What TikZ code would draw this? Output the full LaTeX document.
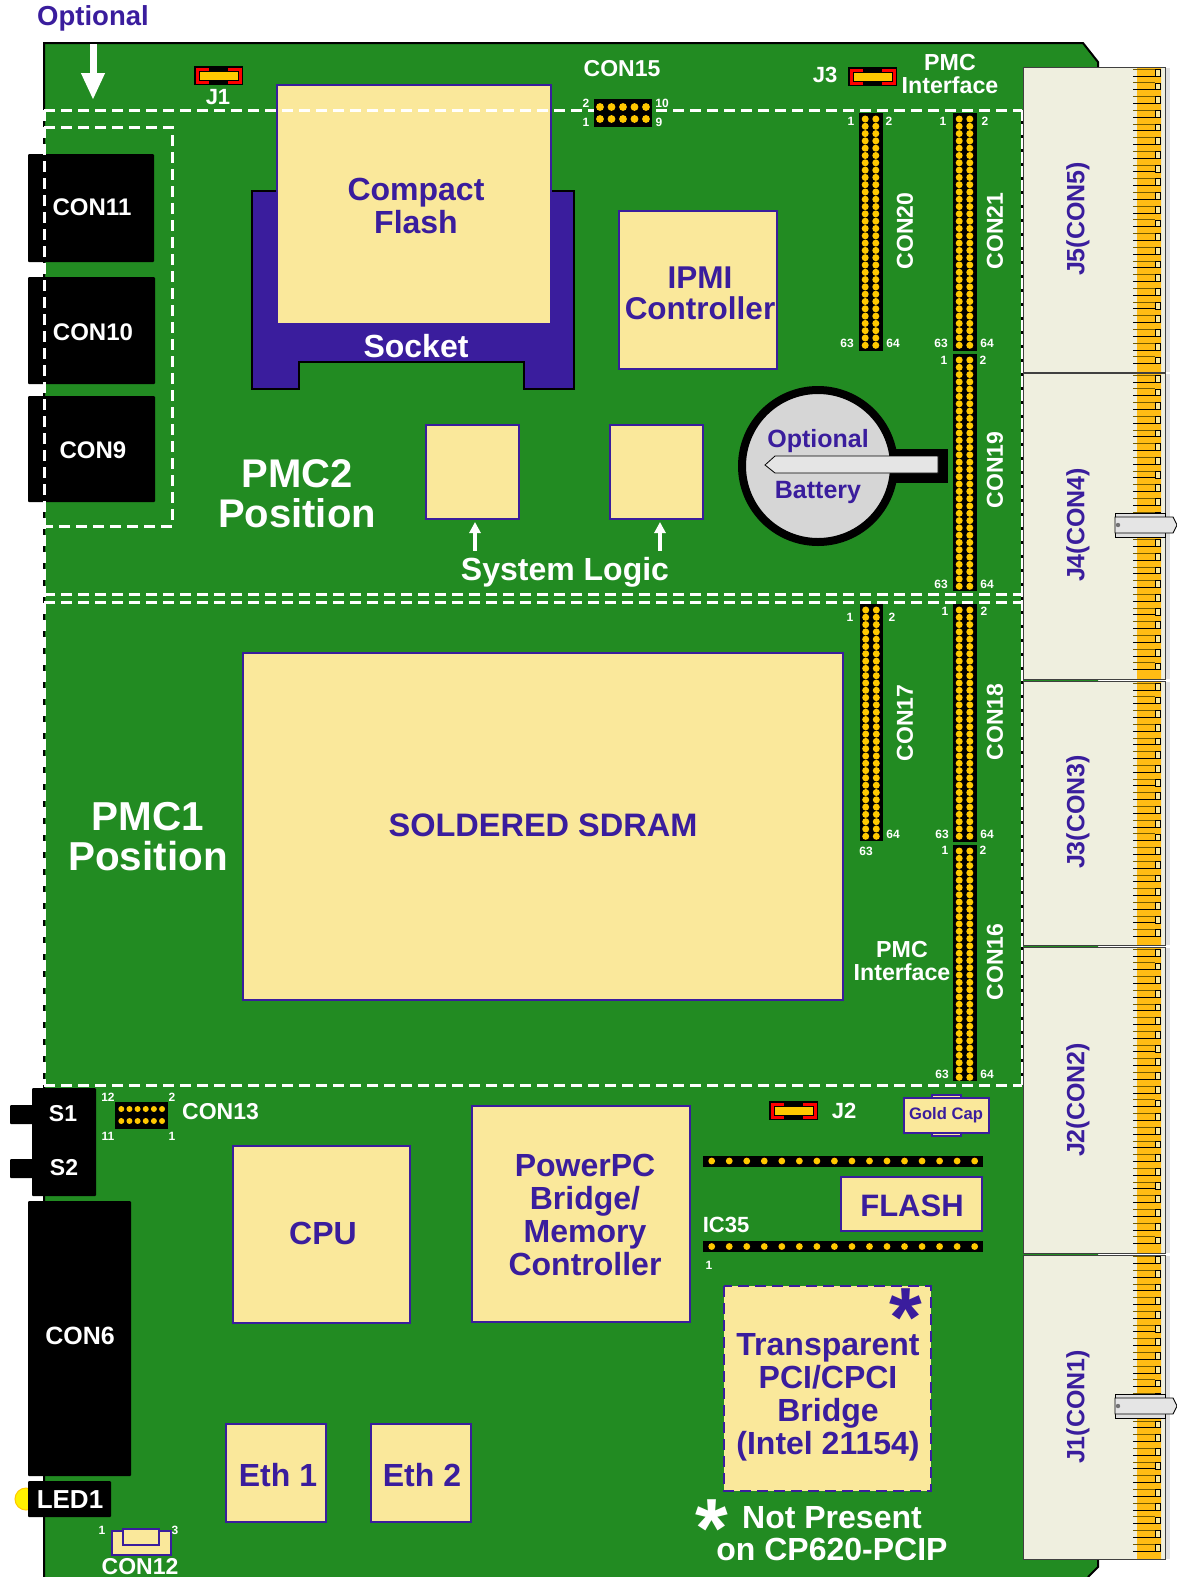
\documentclass[tikz,border=0pt]{standalone}
\usepackage{fontspec}
\setmainfont{Liberation Sans}
\usetikzlibrary{arrows.meta}

\definecolor{pcbgreen}{HTML}{228B22}
\definecolor{navy}{HTML}{3A1D9D}
\definecolor{chipyellow}{HTML}{FAE89B}
\definecolor{pingold}{HTML}{FFC800}
\definecolor{bodycream}{HTML}{EFEFDF}
\definecolor{goldlo}{HTML}{FFBC14}
\definecolor{goldhi}{HTML}{FFD000}

\newcommand{\fs}[2]{\fontsize{#1}{#2}\selectfont\bfseries}

\tikzset{
  chip/.style={draw=navy, fill=chipyellow, line width=1.6pt},
  blk/.style={fill=black, rounded corners=1pt},
  cut/.style={white, line width=3pt, dash pattern=on 11pt off 6pt},
  pin/.style={fill=pingold},
  lbl/.style={navy, inner sep=0pt, align=center, font=\fs{32}{33}},
  wlbl/.style={white, inner sep=0pt, align=center, font=\fs{23}{24}},
  num/.style={white, inner sep=0pt, font=\fs{12}{12}},
  jlbl/.style={navy, inner sep=0pt, rotate=90, font=\fs{25}{25}},
  conv/.style={white, inner sep=0pt, rotate=90, font=\fs{23}{23}},
  uparrow/.style={white, line width=4pt, shorten <=6pt, -{Triangle[width=11pt,length=11pt]}}
}

% two column header, 32 rows
\newcommand{\longhdr}[3]{
  \fill[black] (#1,#2) rectangle ({#1+23.5},#3);
  \foreach \n in {0,...,31} {
    \fill[pin] ({#1+6.2},{#2+6+\n*7.3}) circle (3.5pt);
    \fill[pin] ({#1+16.8},{#2+6+\n*7.3}) circle (3.5pt);
  }
}
% red jumper
\newcommand{\jumper}[2]{
  \fill[black] (#1,#2) rectangle ({#1+49},{#2+19});
  \fill[red] ({#1+1.5},{#2+1.5}) rectangle ({#1+15},{#2+17.5});
  \fill[red] ({#1+34},{#2+1.5}) rectangle ({#1+47.5},{#2+17.5});
  \draw[black, fill=pingold, line width=0.8pt] ({#1+5},{#2+5.5}) rectangle ({#1+44},{#2+14});
}
% backplane connector: top, bottom, y of first tooth, last tooth number
\newcommand{\jconn}[4]{
  \draw[draw=black!75, fill=bodycream, line width=1pt] (1023,#1) rectangle (1165,#2);
  \shade[top color=goldlo, middle color=goldhi, bottom color=goldlo] (1137,{#1+1}) rectangle (1161,{#2-1});
  \fill[black!12] (1165.5,{#1+1}) rectangle (1170,#2);
  \foreach \n in {0,...,#4} {
    \draw[black!55!pingold, line width=1pt] (1133,{#3+\n*13.7-6.8}) -- (1155,{#3+\n*13.7-6.8});
    \draw[black, line width=0.9pt] (1133,{#3+\n*13.7}) -- (1155,{#3+\n*13.7});
    \draw[black, fill=chipyellow, line width=0.7pt] (1155,{#3+\n*13.7-6.8}) rectangle (1160.5,{#3+\n*13.7});
  }
}
% latch on the front edge
\newcommand{\latch}[1]{
  \draw[black, fill=black!12, line width=0.9pt] (1115,{#1-12}) rectangle (1165,{#1+12});
  \draw[black, fill=black!10, line width=0.9pt] (1115,{#1-8}) -- (1173,{#1-8}) -- (1177,{#1}) -- (1173,{#1+8}) -- (1115,{#1+8}) -- cycle;
  \fill[black!55] (1118,{#1}) circle (2.2pt);
}

\begin{document}
\begin{tikzpicture}[x=1pt, y=-1pt]
  \useasboundingbox (0,0) rectangle (1177,1577);
  \fill[white] (0,0) rectangle (1177,1577);

  % Board
  \fill[pcbgreen] (44,43) -- (1083,43) -- (1098,62) -- (1098,1567) -- (1088,1577) -- (44,1577) -- cycle;
  \draw[black, line width=2pt] (1088,1577) -- (1098,1567) -- (1098,1540);
  \draw[black, line width=2pt] (44,1577) -- (44,43) -- (1083,43) -- (1098,62) -- (1098,80);

  % Optional label and arrow
  \node[lbl, font=\fs{27.5}{28}] (opt) at (93,18) {Optional};
  \coordinate (optend) at (93,100);
  \draw[white, line width=7pt, shorten <=13pt, -{Triangle[width=22pt,length=27pt]}] (opt.south) -- (optend);

  % Backplane connectors
  \jconn{67}{372}{76}{21}
  \jconn{373}{679}{382}{21}
  \jconn{681}{945}{690}{18}
  \jconn{947}{1253}{956}{21}
  \jconn{1255}{1559}{1263.4}{21}
  \latch{525}
  \latch{1406}
  \node[jlbl] (j5) at (1078,219) {J5(CON5)};
  \node[jlbl] (j4) at (1078,525) {J4(CON4)};
  \node[jlbl] (j3) at (1078,812) {J3(CON3)};
  \node[jlbl] (j2) at (1078,1100) {J2(CON2)};
  \node[jlbl] (j1) at (1078,1407) {J1(CON1)};

  % Front panel connectors
  \fill[blk] (28,154) rectangle (154,262);
  \node[wlbl, font=\fs{24}{24}] (con11) at (92,207) {CON11};
  \fill[blk] (28,277) rectangle (155,384);
  \node[wlbl, font=\fs{24}{24}] (con10) at (93,332) {CON10};
  \fill[blk] (28,396) rectangle (155,502);
  \node[wlbl, font=\fs{24}{24}] (con9) at (93,450) {CON9};

  % Switches
  \fill[blk] (10,1105) rectangle (34,1124);
  \fill[blk] (10,1159) rectangle (34,1178);
  \fill[blk] (32,1088) rectangle (96,1196);
  \node[wlbl] (s1) at (63,1114) {S1};
  \node[wlbl] (s2) at (64,1168) {S2};
  \fill[blk] (28,1201) rectangle (131,1476);
  \node[wlbl, font=\fs{25}{25}] (con6) at (80,1336) {CON6};

  % LED
  \draw[draw=pingold, fill=yellow, line width=1pt] (26,1499) circle (11pt);
  \fill[blk] (28,1481) rectangle (111,1517);
  \node[wlbl, font=\fs{26}{26}] (led1) at (70,1500) {LED1};

  % Socket and compact flash
  \draw[draw=black, fill=navy, line width=2pt] (252,191) -- (574,191) -- (574,389) -- (524,389) -- (524,362) -- (299,362) -- (299,389) -- (252,389) -- cycle;
  \draw[chip, line width=2.5pt] (277,85) rectangle (551,324);
  \node[lbl] (cflash) at (416,206) {Compact\\Flash};
  \node[wlbl, font=\fs{32}{32}] (socket) at (416,346) {Socket};

  % Jumpers
  \jumper{194}{66}
  \node[wlbl, font=\fs{22}{22}] (j1lbl) at (218,97) {J1};
  \jumper{848}{67}
  \node[wlbl, font=\fs{22}{22}] (j3lbl) at (825,75) {J3};
  \jumper{769}{1101}
  \node[wlbl, font=\fs{22}{22}] (j2lbl) at (844,1111) {J2};

  % CON13 and CON12
  \fill[black] (115,1102) rectangle (168,1129);
  \foreach \i in {0,...,5} {
    \fill[pin] ({121.3+\i*8.15},1109) circle (3pt);
    \fill[pin] ({121.3+\i*8.15},1121) circle (3pt);
  }
  \node[wlbl, anchor=west] (con13) at (182,1112) {CON13};
  \node[num] (n13a) at (108,1097) {12};
  \node[num] (n13b) at (172,1097) {2};
  \node[num] (n13c) at (108,1136) {11};
  \node[num] (n13d) at (172,1136) {1};

  \draw[chip, line width=2pt] (112,1531) rectangle (171,1555);
  \draw[chip, line width=2pt] (123,1529) rectangle (159,1545);
  \node[wlbl] (con12) at (140,1567) {CON12};
  \node[num] (n12a) at (102,1530) {1};
  \node[num] (n12b) at (175,1530) {3};

  % Long PMC headers
  \longhdr{859}{113}{351}
  \longhdr{953}{113}{351}
  \longhdr{953}{354}{591}
  \longhdr{859.5}{604}{841}
  \longhdr{953}{604}{842}
  \longhdr{953}{845}{1081}
  \node[conv] (con20) at (905,231) {CON20};
  \node[conv] (con21) at (995,231) {CON21};
  \node[conv] (con19) at (995,470) {CON19};
  \node[conv] (con17) at (905,723) {CON17};
  \node[conv] (con18) at (995,722) {CON18};
  \node[conv] (con16) at (995,962) {CON16};

  % Pin numbers
  \node[num] (p20a) at (851,121) {1};
  \node[num] (p20b) at (889,121) {2};
  \node[num] (p20c) at (847,343) {63};
  \node[num] (p20d) at (893,343) {64};
  \node[num] (p21a) at (943,121) {1};
  \node[num] (p21b) at (985,121) {2};
  \node[num] (p21c) at (941,343) {63};
  \node[num] (p21d) at (987,343) {64};
  \node[num] (p19a) at (944,360) {1};
  \node[num] (p19b) at (983,360) {2};
  \node[num] (p19c) at (941,584) {63};
  \node[num] (p19d) at (987,584) {64};
  \node[num] (p17a) at (850,617) {1};
  \node[num] (p17b) at (892,617) {2};
  \node[num] (p17c) at (866,851) {63};
  \node[num] (p17d) at (893,834) {64};
  \node[num] (p18a) at (945,611) {1};
  \node[num] (p18b) at (984,611) {2};
  \node[num] (p18c) at (942,834) {63};
  \node[num] (p18d) at (987,834) {64};
  \node[num] (p16a) at (945,850) {1};
  \node[num] (p16b) at (983,850) {2};
  \node[num] (p16c) at (942,1074) {63};
  \node[num] (p16d) at (987,1074) {64};

  % Interface labels
  \node[wlbl, font=\fs{23.2}{23}] (pmctop) at (950,74) {PMC\\Interface};
  \node[wlbl, font=\fs{23.2}{23}] (pmcbot) at (902,961) {PMC\\Interface};

  % PMC2 area
  \draw[chip] (619,211) rectangle (777,369);
  \node[lbl, font=\fs{31.5}{31}] (ipmi) at (700,293) {IPMI\\Controller};
  \node[wlbl, font=\fs{40}{40}] (pmc2) at (297,494) {PMC2\\Position};
  \draw[chip] (426,425) rectangle (519,519);
  \draw[chip] (610,425) rectangle (703,519);
  \coordinate (logica) at (475,522);
  \coordinate (logicb) at (660,522);
  \node[wlbl, font=\fs{32}{32}] (syslogic) at (565,572) {System Logic};
  \draw[uparrow] (syslogic.north -| logica) -- (logica);
  \draw[uparrow] (syslogic.north -| logicb) -- (logicb);

  % Battery
  \fill[black] (895,449) rectangle (948,483);
  \draw[draw=black, fill=black!16, line width=8pt] (818,466) circle (76pt);
  \draw[draw=black, fill=black!10, line width=0.8pt] (938,456) -- (775,456) -- (765,465) -- (775,473) -- (938,473) -- cycle;
  \node[lbl, font=\fs{25}{25}] (optbat) at (818,441) {Optional};
  \node[lbl, font=\fs{25}{25}] (batt) at (818,492) {Battery};

  % PMC1 area
  \draw[chip, line width=2.2pt] (243,653) rectangle (843,1000);
  \node[lbl, font=\fs{32.5}{33}] (sdram) at (543,825) {SOLDERED SDRAM};
  \node[wlbl, font=\fs{40.4}{40}] (pmc1) at (148,837) {PMC1\\Position};

  % Lower chips
  \draw[chip] (233,1146) rectangle (410,1323);
  \node[lbl] (cpu) at (323,1233) {CPU};
  \draw[chip, line width=2.2pt] (472,1106) rectangle (690,1322);
  \node[lbl] (bridge) at (585,1215) {PowerPC\\Bridge/\\Memory\\Controller};
  \draw[chip] (226,1424) rectangle (326,1522);
  \node[lbl] (eth1) at (278,1475) {Eth 1};
  \draw[chip] (371,1424) rectangle (471,1522);
  \node[lbl] (eth2) at (422,1475) {Eth 2};

  % Flash area
  \fill[black] (703,1156) rectangle (983,1167);
  \fill[black] (703,1241) rectangle (983,1252);
  \foreach \i in {0,...,15} {
    \fill[pin] ({711.7+\i*17.53},1161) circle (3.4pt);
    \fill[pin] ({711.7+\i*17.53},1246.5) circle (3.4pt);
  }
  \draw[chip] (841,1177) rectangle (982,1231);
  \node[lbl, font=\fs{31}{31}] (flash) at (912,1206) {FLASH};
  \node[wlbl, font=\fs{22}{22}] (ic35) at (726,1225) {IC35};
  \node[num] (ic35pin) at (709,1265) {1};

  % Gold cap
  \draw[chip] (932,1095) rectangle (961,1136);
  \draw[chip, line width=2pt] (904,1098) rectangle (989,1133);
  \node[lbl, font=\fs{16.6}{17}] (goldcap) at (946,1115) {Gold Cap};

  % Bridge
  \draw[chip, dash pattern=on 11pt off 6pt, line width=2.2pt] (724,1286) rectangle (931,1491);
  \node[lbl] (pci) at (828,1397) {Transparent\\PCI/CPCI\\Bridge\\(Intel 21154)};
  \node[lbl, font=\fs{84}{84}] (stara) at (906,1318) {*};
  \node[wlbl, font=\fs{84}{84}] (starb) at (712,1529) {*};
  \node[wlbl, font=\fs{32}{32}] (notpres) at (832,1534) {Not Present\\on CP620-PCIP};

  % Dashed outlines of the PMC positions
  \draw[cut] (44,110) -- (1022,110);
  \draw[cut] (44,594) -- (1022,594);
  \draw[cut] (44,602) -- (1022,602);
  \draw[cut] (44,1085) -- (1022,1085);
  \draw[cut] (44,110) -- (44,1085);
  \draw[black, line width=2pt] (1021.5,110) -- (1021.5,1085);
  \draw[white, line width=2pt, dash pattern=on 11pt off 3pt] (1021.5,110) -- (1021.5,1085);
  \draw[cut] (44,127) -- (172,127) -- (172,526) -- (44,526);

  % CON15 sits on the dashed line
  \fill[black] (594,99) rectangle (652,127);
  \foreach \i in {0,...,4} {
    \fill[pin] ({600+\i*11.5},107) circle (3.9pt);
    \fill[pin] ({600+\i*11.5},119) circle (3.9pt);
  }
  \node[wlbl] (con15) at (622,69) {CON15};
  \node[num] (n15a) at (586,103) {2};
  \node[num] (n15b) at (662,103) {10};
  \node[num] (n15c) at (586,122) {1};
  \node[num] (n15d) at (659,122) {9};
\end{tikzpicture}
\end{document}
